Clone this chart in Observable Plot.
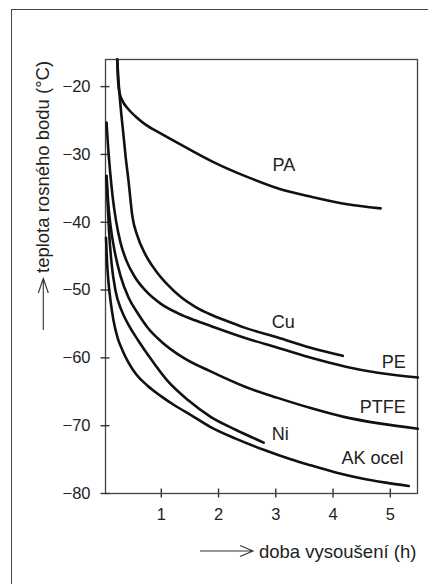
<!DOCTYPE html>
<html><head><meta charset="utf-8">
<script src="https://cdn.jsdelivr.net/npm/d3@7"></script>
<script src="https://cdn.jsdelivr.net/npm/@observablehq/plot@0.6"></script>
<style>
html,body{margin:0;padding:0;background:#fff;overflow:hidden;width:428px;height:584px;}
#wrap{position:relative;width:428px;height:584px;overflow:hidden;font-family:"Liberation Sans",Arial,sans-serif;}
#outer{position:absolute;left:11px;top:9px;width:600px;height:800px;border-left:1.5px solid #444;border-top:1.5px solid #444;}
#chart{position:absolute;left:0;top:0;}
#titles{position:absolute;left:0;top:0;}
</style></head><body>
<div id="wrap"><div id="outer"></div><div id="chart"></div><svg id="titles" width="428" height="584"></svg></div>
<script>
// Series (x = doba vysoušení in h, y = teplota rosného bodu in °C)
const paX   = [0.231, 0.245, 0.271, 0.323, 0.411, 0.551, 0.726, 0.988, 1.46, 1.93, 2.51, 3.07, 3.65, 4.22, 4.83];
const paY   = [-16.0, -19.1, -20.9, -22.1, -23.2, -24.4, -25.6, -26.9, -29.1, -31.2, -33.35, -35.1, -36.3, -37.3, -37.95];
const cuX   = [0.231, 0.253, 0.288, 0.332, 0.376, 0.428, 0.493, 0.586, 0.726, 0.900, 1.110, 1.337, 1.600, 1.862, 2.124, 2.439, 3.033, 3.610, 4.170];
const cuY   = [-16.0, -19.1, -22.8, -26.5, -30.2, -33.9, -39.0, -42.1, -44.8, -47.1, -49.2, -51.0, -52.5, -53.6, -54.5, -55.5, -57.0, -58.5, -59.7];
const peX   = [0.044, 0.070, 0.105, 0.149, 0.210, 0.288, 0.393, 0.533, 0.726, 0.988, 1.285, 1.600, 1.862, 2.439, 3.033, 3.663, 4.222, 4.781, 5.481];
const peY   = [-25.3, -28.7, -32.4, -36.1, -39.8, -43.0, -45.7, -48.0, -50.1, -52.0, -53.4, -54.5, -55.3, -57.0, -58.5, -60.1, -61.3, -62.2, -62.9];
const ptfeX = [0.044, 0.070, 0.114, 0.184, 0.288, 0.428, 0.603, 0.778, 0.988, 1.390, 1.862, 2.474, 3.033, 3.610, 4.187, 4.834, 5.481];
const ptfeY = [-33.2, -36.8, -40.5, -44.2, -47.9, -51.1, -53.6, -55.7, -57.5, -60.0, -62.0, -64.3, -65.9, -67.4, -68.7, -69.7, -70.45];
const niX   = [0.044, 0.061, 0.087, 0.131, 0.201, 0.306, 0.446, 0.603, 0.813, 1.110, 1.477, 1.862, 2.299, 2.789];
const niY   = [-33.2, -36.8, -41.2, -46.0, -50.1, -53.0, -55.4, -57.5, -60.1, -63.4, -66.3, -68.7, -70.6, -72.5];
const akX   = [0.035, 0.052, 0.079, 0.114, 0.166, 0.236, 0.323, 0.428, 0.568, 0.760, 0.988, 1.250, 1.512, 1.862, 2.299, 2.789, 3.260, 3.610, 4.047, 4.484, 4.921, 5.323];
const akY   = [-42.3, -45.7, -48.9, -51.6, -54.5, -57.0, -58.9, -60.7, -62.5, -64.1, -65.6, -67.1, -68.4, -70.2, -71.9, -73.55, -74.95, -75.85, -76.9, -77.75, -78.4, -78.9];

// Curve labels
const labelText = ["PA", "Cu", "PE", "PTFE", "Ni", "AK ocel"];
const labelX    = [3.14, 3.13, 5.06, 4.87, 3.08, 4.69];
const labelY    = [-31.6, -54.75, -60.67, -67.3, -71.3, -74.85];

// Ticks and titles
const xTicks = [1, 2, 3, 4, 5];
const yTicks = [-80, -70, -60, -50, -40, -30, -20];
const xTitle = "doba vysoušení (h)";
const yTitle = "teplota rosného bodu (°C)";

const series = [["PA", paX, paY], ["Cu", cuX, cuY], ["PE", peX, peY], ["PTFE", ptfeX, ptfeY], ["Ni", niX, niY], ["AK ocel", akX, akY]];
const rows = series.flatMap(([name, xs, ys]) => xs.map((x, i) => ({name, x, y: ys[i]})));
const labels = labelText.map((t, i) => ({t, x: labelX[i], y: labelY[i]}));

const W = 428, H = 584, mT = 59, mL = 105, mR = 11, mB = 91, tick = 4.5;
const fmt = d => String(d).replace("-", "\u2212");
const chart = Plot.plot({
  width: W, height: H,
  marginTop: mT, marginLeft: mL, marginRight: mR, marginBottom: mB,
  style: {fontFamily: "'Liberation Sans', Arial, sans-serif", fontSize: "16.5px", background: "transparent", color: "#333"},
  x: {domain: [0.026, 5.475], ticks: xTicks, tickFormat: fmt, tickSize: tick, tickPadding: 10.5, label: null},
  y: {domain: [-80, -16], ticks: yTicks, tickFormat: fmt, tickSize: tick, tickPadding: 10.5, label: null},
  marks: [
    Plot.frame({stroke: "#444", strokeWidth: 1.3}),
    // inward half of the crossing ticks
    Plot.tickX(xTicks, {x: d => d, insetTop: H - mT - mB - tick, stroke: "#333", strokeWidth: 1.4}),
    Plot.tickY(yTicks, {y: d => d, insetRight: W - mL - mR - tick, stroke: "#333", strokeWidth: 1.4}),
    Plot.line(rows, {x: "x", y: "y", z: "name", curve: "monotone-x", stroke: "#111", strokeWidth: 2.6}),
    Plot.text(labels, {x: "x", y: "y", text: "t", fontSize: 18, fill: "#222"})
  ]
});
document.getElementById("chart").appendChild(chart);
d3.select(chart).selectAll("g[aria-label$='tick'] path").attr("stroke-width", 1.4);
d3.select(chart).selectAll("g[aria-label$='tick label'] text").attr("fill", "#222");

const t = d3.select("#titles");
const ff = "'Liberation Sans', Arial, sans-serif";
// y title with arrow
t.append("text").attr("transform", "translate(48.5,273) rotate(-90)")
  .attr("font-family", ff).attr("font-size", 18.5).attr("fill", "#222").text(yTitle);
t.append("path").attr("d", "M43.3,330V278.5M38.3,293L43.3,278.5L48.3,293")
  .attr("fill", "none").attr("stroke", "#333").attr("stroke-width", 1.1);
// x title with arrow
t.append("text").attr("x", 259).attr("y", 558)
  .attr("font-family", ff).attr("font-size", 18.5).attr("fill", "#222").text(xTitle);
t.append("path").attr("d", "M200,551H253M240,545.5L253,551L240,556.5")
  .attr("fill", "none").attr("stroke", "#333").attr("stroke-width", 1.1);
</script></body></html>
